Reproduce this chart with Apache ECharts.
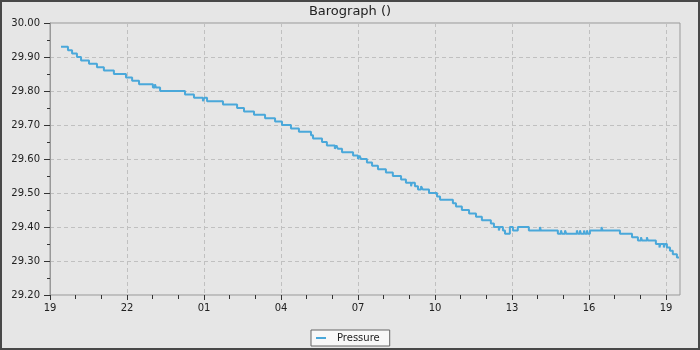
<!DOCTYPE html>
<html>
<head>
<meta charset="utf-8">
<script src="https://cdn.jsdelivr.net/npm/echarts@6/dist/echarts.min.js"></script>
<style>
  html, body { margin: 0; padding: 0; background: #e6e6e6; }
  #chart { width: 700px; height: 350px; }
</style>
</head>
<body>
<div id="chart"></div>
<script>
// hours elapsed since the first x tick (19:00)
var startHour = 19;
var xTickLabels = ['19', '22', '01', '04', '07', '10', '13', '16', '19'];
var times = [
  0.43, 0.70, 0.86, 1.05, 1.21, 1.52, 1.83, 2.10, 2.49, 2.96, 3.20, 3.47, 4.01, 4.09, 4.13, 4.29,
  5.26, 5.61, 5.96, 6.02, 6.12, 6.74, 7.29, 7.56, 7.95, 8.38, 8.77, 9.04, 9.39, 9.70,
  10.17, 10.25, 10.60, 10.79, 11.10, 11.16, 11.22, 11.38, 11.81, 12.00, 12.06, 12.12,
  12.35, 12.55, 12.78, 13.09, 13.36, 13.68, 13.87, 14.07, 14.10, 14.22, 14.34, 14.46, 14.53,
  14.77, 15.08, 15.20, 15.70, 15.82, 16.05, 16.33, 16.60, 16.83, 17.18, 17.30, 17.49, 17.53,
  17.65, 17.73, 17.92, 18.04, 18.23, 18.66, 19.09, 19.13, 19.79, 19.91, 19.95, 20.07, 20.12,
  20.53, 20.57, 20.65, 20.69, 20.81, 20.84, 20.92, 20.96, 21.04, 21.49, 21.53, 22.21, 22.68,
  22.91, 23.03, 23.07, 23.26, 23.30, 23.61, 23.75, 23.79, 23.92, 23.96, 24.04, 24.16, 24.27,
  24.43, 24.51
];
var pressure = [
  29.93, 29.92, 29.91, 29.90, 29.89, 29.88, 29.87, 29.86, 29.85, 29.84, 29.83, 29.82, 29.81, 29.82, 29.81, 29.80,
  29.79, 29.78, 29.77, 29.78, 29.77, 29.76, 29.75, 29.74, 29.73, 29.72, 29.71, 29.70, 29.69, 29.68,
  29.67, 29.66, 29.65, 29.64, 29.63, 29.64, 29.63, 29.62, 29.61, 29.60, 29.61, 29.60,
  29.59, 29.58, 29.57, 29.56, 29.55, 29.54, 29.53, 29.52, 29.53, 29.52, 29.51, 29.52, 29.51,
  29.50, 29.49, 29.48, 29.47, 29.46, 29.45, 29.44, 29.43, 29.42, 29.41, 29.40, 29.39, 29.40,
  29.39, 29.38, 29.40, 29.39, 29.40, 29.39, 29.40, 29.39, 29.38, 29.39, 29.38, 29.39, 29.38,
  29.39, 29.38, 29.39, 29.38, 29.39, 29.38, 29.39, 29.38, 29.39, 29.40, 29.39, 29.38, 29.37,
  29.36, 29.37, 29.36, 29.37, 29.36, 29.35, 29.34, 29.35, 29.34, 29.35, 29.34, 29.33, 29.32,
  29.31, 29.31
];
var seriesName = 'Pressure';
var titleText = 'Barograph ()';

var data = times.map(function (t, i) { return [t, pressure[i]]; });
var font = 'DejaVu Sans';
var chart = echarts.init(document.getElementById('chart'), null, { renderer: 'canvas' });
chart.setOption({
  backgroundColor: '#e6e6e6',
  animation: false,
  title: {
    text: titleText, left: 'center', top: 0,
    textStyle: { fontFamily: font, fontSize: 13, fontWeight: 'normal', color: '#222' }
  },
  legend: {
    data: [seriesName], left: 311, top: 330,
    icon: 'rect', itemWidth: 10, itemHeight: 2,
    padding: [3, 10, 3, 5],
    backgroundColor: '#f8f8f8', borderColor: '#666', borderWidth: 1, borderRadius: 0,
    textStyle: { fontFamily: font, fontSize: 10, color: '#222', padding: [0, 0, 0, 6] }
  },
  graphic: [{
    type: 'rect', silent: true, z: 100,
    shape: { x: 1, y: 1, width: 698, height: 348 },
    style: { fill: 'none', stroke: '#484848', lineWidth: 2 }
  }],
  grid: [
    { left: 50, top: 23, width: 630, height: 272, show: true, borderColor: '#999', borderWidth: 1, backgroundColor: 'transparent' },
    { left: 50, top: 23, width: 616, height: 272, show: false }
  ],
  xAxis: [
    { type: 'value', gridIndex: 0, min: 0, max: 24.55, show: false },
    {
      type: 'value', gridIndex: 1, min: 0, max: 24, interval: 3,
      axisLine: { show: false },
      axisTick: { show: true, length: 5, lineStyle: { color: '#333' } },
      minorTick: { show: true, splitNumber: 3, length: 4, lineStyle: { color: '#333' } },
      splitLine: { show: true, lineStyle: { color: '#c0c0c0', type: [4, 3] } },
      axisLabel: {
        margin: 8, fontFamily: font, fontSize: 10, color: '#222',
        formatter: function (v) { return xTickLabels[Math.round(v / 3)]; }
      }
    }
  ],
  yAxis: [
    {
      type: 'value', gridIndex: 0, min: 29.2, max: 30.0, interval: 0.1,
      axisLine: { show: true, lineStyle: { color: '#999' } },
      axisTick: { show: true, length: 6, lineStyle: { color: '#333' } },
      minorTick: { show: true, splitNumber: 2, length: 3, lineStyle: { color: '#333' } },
      splitLine: { show: true, lineStyle: { color: '#c0c0c0', type: [4, 3] } },
      axisLabel: {
        margin: 10, fontFamily: font, fontSize: 10, color: '#222',
        formatter: function (v) { return v.toFixed(2); }
      }
    },
    { type: 'value', gridIndex: 1, min: 0, max: 1, show: false }
  ],
  series: [{
    name: seriesName, type: 'line', xAxisIndex: 0, yAxisIndex: 0,
    step: 'end', showSymbol: false, symbol: 'none',
    lineStyle: { color: '#4aa8da', width: 2 },
    itemStyle: { color: '#4aa8da' },
    data: data
  }]
});
</script>
</body>
</html>
